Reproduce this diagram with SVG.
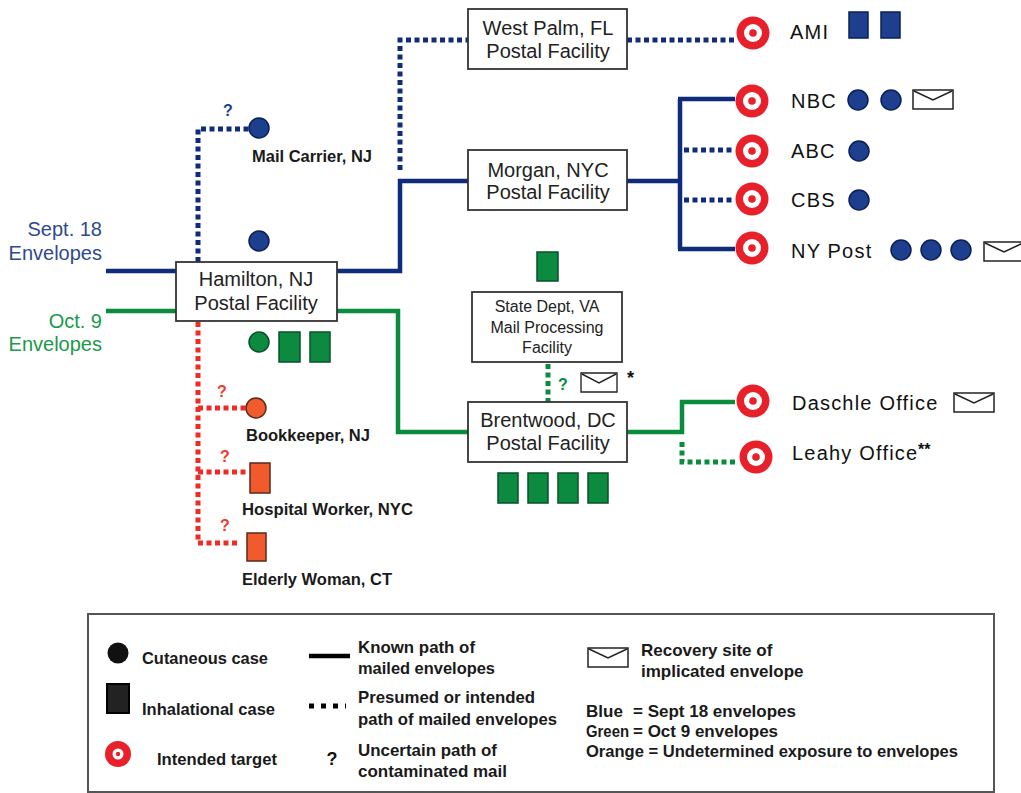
<svg xmlns="http://www.w3.org/2000/svg" xmlns:xlink="http://www.w3.org/1999/xlink" width="1021" height="793" viewBox="0 0 1021 793">
<style>
.box{fill:#fff;stroke:#333;stroke-width:1.8}
.ft{font-family:"Liberation Sans",Arial,sans-serif;font-size:20px;fill:#222;text-anchor:middle}
.fts{font-family:"Liberation Sans",Arial,sans-serif;font-size:16px;fill:#222;text-anchor:middle}
.tl{font-family:"Liberation Sans",Arial,sans-serif;font-size:20px;fill:#111;letter-spacing:1.2px}
.sl{font-family:"Liberation Sans",Arial,sans-serif;font-weight:bold;font-size:16px;fill:#1a1a1a}
.lg{font-family:"Liberation Sans",Arial,sans-serif;font-weight:bold;font-size:17px;fill:#1a1a1a}
.q{font-family:"Liberation Sans",Arial,sans-serif;font-weight:bold;font-size:16px;text-anchor:middle}
.bs{fill:none;stroke:#0f2b7c;stroke-width:4.5}
.bd{fill:none;stroke:#0f2b7c;stroke-width:5;stroke-dasharray:5 3.5}
.gs{fill:none;stroke:#0a8c3f;stroke-width:4.5}
.gd{fill:none;stroke:#0a8c3f;stroke-width:5;stroke-dasharray:5 3.5}
.rd{fill:none;stroke:#ef2b26;stroke-width:5;stroke-dasharray:5 3.5}
.bdot{fill:#1d3f8d;stroke:#0a1f5a;stroke-width:1.5}
.gdot{fill:#0b8a40;stroke:#07502a;stroke-width:1.5}
.odot{fill:#f15a2c;stroke:#5a2a1a;stroke-width:1.5}
.env{fill:#fff;stroke:#222;stroke-width:1.5}
</style>
<defs>
<g id="tgt"><circle r="16.5" fill="#e8202a"/><circle r="9" fill="#fff"/><circle r="3.8" fill="#e8202a"/></g>
<g id="env"><rect x="0" y="0" width="40" height="19" class="env"/><polyline points="1,1 20,10 39,1" class="env"/></g>
</defs>
<rect width="1021" height="793" fill="#fff"/>

<g id="connectors">
<path class="bs" d="M106,271 H176 M337,271 H400 V181 H468"/>
<path class="bd" d="M400,170 V40 H468"/>
<path class="bd" d="M627,40 H735"/>
<path class="bs" d="M627,181 H680 M680,99 V249 M678,99 H735 M678,249 H735"/>
<path class="bd" d="M684,150 H735 M684,200 H735"/>
<path class="bd" d="M198,262 V129 H250"/>
<path class="gs" d="M106,311 H176 M337,311 H398 V432 H468"/>
<path class="gs" d="M627,432 H682 V402 H735"/>
<path class="gd" d="M682,442 V462 H738"/>
<path class="gd" d="M548,364 V402"/>
<path class="rd" d="M198,322 V543 H240 M198,408 H246 M198,472 H249"/>
</g>

<g id="label-sept"><text x="102" y="236" font-family="Liberation Sans,Arial,sans-serif" font-size="20" fill="#2f4a8c" text-anchor="end">Sept. 18</text><text x="102" y="260" font-family="Liberation Sans,Arial,sans-serif" font-size="20" fill="#2f4a8c" text-anchor="end">Envelopes</text></g>
<g id="label-oct"><text x="102" y="328" font-family="Liberation Sans,Arial,sans-serif" font-size="20" fill="#1a9a4a" text-anchor="end">Oct. 9</text><text x="102" y="351" font-family="Liberation Sans,Arial,sans-serif" font-size="20" fill="#1a9a4a" text-anchor="end">Envelopes</text></g>

<g id="hamilton"><rect class="box" x="176" y="262" width="161" height="59"/><text class="ft" x="256" y="286">Hamilton, NJ</text><text class="ft" x="256" y="310">Postal Facility</text></g>
<g id="hamilton-cases-blue"><circle class="bdot" cx="259" cy="241" r="10"/></g>
<g id="hamilton-cases-green"><circle class="gdot" cx="259" cy="342" r="10"/><rect class="gdot" x="279" y="332" width="21" height="30"/><rect class="gdot" x="310" y="332" width="20" height="30"/></g>

<g id="mail-carrier"><circle class="bdot" cx="259" cy="128" r="10"/><text class="q" x="228" y="116" fill="#1d3f8d">?</text><text class="sl" x="252" y="162" textLength="120" lengthAdjust="spacingAndGlyphs">Mail Carrier, NJ</text></g>
<g id="bookkeeper"><circle class="odot" cx="256" cy="408" r="10"/><text class="q" x="222" y="397" fill="#ef3a2a">?</text><text class="sl" x="246" y="441" textLength="124" lengthAdjust="spacingAndGlyphs">Bookkeeper, NJ</text></g>
<g id="hospital-worker"><rect class="odot" x="250" y="463" width="20" height="30"/><text class="q" x="225" y="462" fill="#ef3a2a">?</text><text class="sl" x="242" y="515" textLength="171" lengthAdjust="spacingAndGlyphs">Hospital Worker, NYC</text></g>
<g id="elderly-woman"><rect class="odot" x="247" y="533" width="19" height="28"/><text class="q" x="225" y="531" fill="#ef3a2a">?</text><text class="sl" x="242" y="585" textLength="150" lengthAdjust="spacingAndGlyphs">Elderly Woman, CT</text></g>

<g id="west-palm"><rect class="box" x="468" y="9" width="159" height="60"/><text class="ft" x="548" y="35">West Palm, FL</text><text class="ft" x="548" y="58">Postal Facility</text></g>
<g id="morgan"><rect class="box" x="468" y="150" width="159" height="60"/><text class="ft" x="548" y="177">Morgan, NYC</text><text class="ft" x="548" y="199">Postal Facility</text></g>
<g id="state-dept"><rect class="gdot" x="537" y="252" width="21" height="29"/><rect class="box" x="472" y="292" width="150" height="70"/><text class="fts" x="547" y="312">State Dept, VA</text><text class="fts" x="547" y="333">Mail Processing</text><text class="fts" x="547" y="353">Facility</text></g>
<g id="state-dept-note"><text class="q" x="563" y="390" fill="#0a8c3f">?</text><use xlink:href="#env" transform="translate(581,373) scale(0.9,1)"/><text x="627" y="384" font-family="Liberation Sans,Arial,sans-serif" font-weight="bold" font-size="18" fill="#111">*</text></g>
<g id="brentwood"><rect class="box" x="468" y="402" width="159" height="60"/><text class="ft" x="548" y="427">Brentwood, DC</text><text class="ft" x="548" y="450">Postal Facility</text><rect class="gdot" x="498" y="473" width="20" height="30"/><rect class="gdot" x="528" y="473" width="20" height="30"/><rect class="gdot" x="558" y="473" width="20" height="30"/><rect class="gdot" x="588" y="473" width="20" height="30"/></g>

<g id="ami"><use xlink:href="#tgt" x="753" y="33"/><text class="tl" x="790" y="39">AMI</text><rect class="bdot" x="849" y="12" width="19" height="26"/><rect class="bdot" x="881" y="12" width="19" height="26"/></g>
<g id="nbc"><use xlink:href="#tgt" x="752" y="101"/><text class="tl" x="791" y="108">NBC</text><circle class="bdot" cx="858" cy="100" r="10"/><circle class="bdot" cx="891" cy="100" r="10"/><use xlink:href="#env" x="913" y="90"/></g>
<g id="abc"><use xlink:href="#tgt" x="752" y="151"/><text class="tl" x="791" y="158">ABC</text><circle class="bdot" cx="859" cy="151" r="10"/></g>
<g id="cbs"><use xlink:href="#tgt" x="752" y="199"/><text class="tl" x="791" y="207">CBS</text><circle class="bdot" cx="859" cy="200" r="10"/></g>
<g id="nypost"><use xlink:href="#tgt" x="752" y="248"/><text class="tl" x="791" y="258">NY Post</text><circle class="bdot" cx="901" cy="250" r="10"/><circle class="bdot" cx="931" cy="250" r="10"/><circle class="bdot" cx="961" cy="250" r="10"/><use xlink:href="#env" x="984" y="242"/></g>
<g id="daschle"><use xlink:href="#tgt" x="753" y="401"/><text class="tl" x="792" y="410">Daschle Office</text><use xlink:href="#env" x="954" y="393"/></g>
<g id="leahy"><use xlink:href="#tgt" x="756" y="457"/><text class="tl" x="792" y="460">Leahy Office</text><text x="918" y="455" font-family="Liberation Sans,Arial,sans-serif" font-weight="bold" font-size="16" fill="#111">**</text></g>

<g id="legend">
<rect x="88" y="614" width="906" height="178" fill="#fff" stroke="#555" stroke-width="2"/>
<circle cx="118" cy="653" r="10.5" fill="#111"/>
<text class="lg" x="142" y="664" textLength="126" lengthAdjust="spacingAndGlyphs">Cutaneous case</text>
<rect x="107" y="684" width="22" height="29" fill="#222" stroke="#000" stroke-width="2"/>
<text class="lg" x="142" y="715" textLength="133" lengthAdjust="spacingAndGlyphs">Inhalational case</text>
<circle cx="118" cy="754" r="13" fill="#e8202a"/><circle cx="118" cy="754" r="5.5" fill="#fff"/><circle cx="118" cy="754" r="2.2" fill="#e8202a"/>
<text class="lg" x="157" y="765" textLength="120" lengthAdjust="spacingAndGlyphs">Intended target</text>
<line x1="309" y1="656" x2="350" y2="656" stroke="#000" stroke-width="4.5"/>
<line x1="309" y1="706" x2="346" y2="706" stroke="#000" stroke-width="5" stroke-dasharray="5 7"/>
<text x="332" y="765" font-family="Liberation Sans,Arial,sans-serif" font-weight="bold" font-size="18" fill="#111" text-anchor="middle">?</text>
<text class="lg" x="358" y="653" textLength="117" lengthAdjust="spacingAndGlyphs">Known path of</text>
<text class="lg" x="358" y="674" textLength="137" lengthAdjust="spacingAndGlyphs">mailed envelopes</text>
<text class="lg" x="358" y="703" textLength="177" lengthAdjust="spacingAndGlyphs">Presumed or intended</text>
<text class="lg" x="358" y="725" textLength="199" lengthAdjust="spacingAndGlyphs">path of mailed envelopes</text>
<text class="lg" x="358" y="756" textLength="139" lengthAdjust="spacingAndGlyphs">Uncertain path of</text>
<text class="lg" x="358" y="777" textLength="149" lengthAdjust="spacingAndGlyphs">contaminated mail</text>
<use xlink:href="#env" x="588" y="648"/>
<text class="lg" x="641" y="656">Recovery site of</text>
<text class="lg" x="641" y="677">implicated envelope</text>
<text class="lg" x="586" y="717">Blue</text><text class="lg" x="633" y="717">= Sept 18 envelopes</text>
<text class="lg" x="586" y="737" textLength="43" lengthAdjust="spacingAndGlyphs">Green</text><text class="lg" x="633" y="737">= Oct 9 envelopes</text>
<text class="lg" x="586" y="757" textLength="372" lengthAdjust="spacingAndGlyphs">Orange = Undetermined exposure to envelopes</text>
</g>
</svg>
